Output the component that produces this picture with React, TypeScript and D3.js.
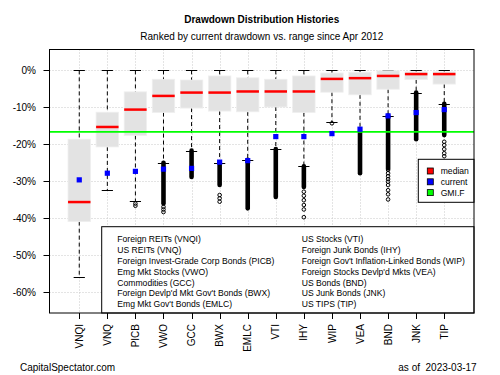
import React from "react";
import * as d3 from "d3";

const tickers = ["VNQI","VNQ","PICB","VWO","GCC","BWX","EMLC","VTI","IHY","WIP","VEA","BND","JNK","TIP"];
const upperWhisker = [0,0,0,0,0,0,0,0,0,0,0,0,0,0];
const q3 = [-18.6,-11.3,-5.8,-2.4,-2.6,-1.5,-2.0,-2.4,-1.5,-0.7,-0.5,-0.1,-0.4,-0.4];
const medians = [-35.6,-15.3,-10.6,-6.9,-6.0,-6.0,-5.7,-5.7,-5.7,-2.3,-2.1,-1.5,-1.0,-1.0];
const q1 = [-40.9,-20.7,-17.6,-11.4,-10.2,-11.0,-11.2,-9.9,-11.4,-5.9,-6.6,-5.1,-2.5,-3.7];
const lowerWhisker = [-56.0,-32.4,-35.3,-25.0,-21.7,-25.0,-24.2,-21.3,-25.9,-13.9,-16.5,-12.2,-6.0,-9.0];
const current = [-29.6,-27.8,-27.3,-26.7,-26.5,-24.8,-24.4,-17.9,-17.9,-17.1,-15.9,-12.3,-11.4,-10.6];
// dense run of overlapping outliers: from lower whisker down to this value
const denseOutlierEnd: (number | null)[] = [null,null,null,-36.0,-28.8,-31.0,-37.3,-34.2,-31.5,null,-27.8,-26.5,-18.6,-17.5];
const sparseOutliers: number[][] = [
  [], [], [-36.0,-36.6], [-36.9,-37.6,-38.3], [], [-33.7,-34.6,-35.5], [], [],
  [-32.8,-33.9,-35.1,-36.4,-37.6,-39.7], [-14.3], [],
  [-26.9,-27.8,-28.6,-29.4,-30.1,-31.0,-32.4,-33.5,-34.9], [], [-19.3,-20.2,-21.3,-22.4,-23.2]
];
const gmif = -16.6;
const yTicks = [0,-10,-20,-30,-40,-50,-60];
const legendCol1 = ["Foreign REITs (VNQI)","US REITs (VNQ)","Foreign Invest-Grade Corp Bonds (PICB)","Emg Mkt Stocks (VWO)","Commodities (GCC)","Foreign Devlp'd Mkt Gov't Bonds (BWX)","Emg Mkt Gov't Bonds (EMLC)"];
const legendCol2 = ["US Stocks (VTI)","Foreign Junk Bonds (IHY)","Foreign Gov't Inflation-Linked Bonds (WIP)","Foreign Stocks Devlp'd Mkts (VEA)","US Bonds (BND)","US Junk Bonds (JNK)","US TIPS (TIP)"];
const keyLabels = ["median","current","GMI.F"];
const keyColors = ["#ff0000","#0000ff","#00ff00"];

const FONT = "'Liberation Sans', Arial, Helvetica, sans-serif";

export default function App() {
  const L = 49.5, R = 474, T = 49.5, B = 313;
  const x = d3.scaleLinear().domain([-0.06, 15.06]).range([L, R]);
  const y = d3.scaleLinear().domain([5.65, -65.6]).range([T, B]);
  const bw = x(1.4) - x(1); // half box width
  const cw = x(1.2) - x(1); // half cap width

  return (
    <svg width={500} height={375} style={{ position: "absolute", left: 0, top: 0, background: "#fff" }} fontFamily={FONT}>
      <rect x={0} y={0} width={500} height={375} fill="#fff" />
      {/* title */}
      <text x={(L + R) / 2} y={23.3} textAnchor="middle" fontSize={10} fontWeight="bold" fill="#000">Drawdown Distribution Histories</text>
      <text x={(L + R) / 2} y={40} textAnchor="middle" fontSize={10} fill="#000">Ranked by current drawdown vs. range since Apr 2012</text>

      {/* grid */}
      {tickers.map((t, i) => (
        <line key={"gv" + t} x1={Math.round(x(i + 1)) + 0.5} x2={Math.round(x(i + 1)) + 0.5} y1={T} y2={B} stroke="#c8c8c8" strokeWidth={1} strokeDasharray="1 2" />
      ))}
      {yTicks.map((v) => (
        <line key={"gh" + v} x1={L} x2={R} y1={Math.round(y(v)) + 0.5} y2={Math.round(y(v)) + 0.5} stroke="#c8c8c8" strokeWidth={1} strokeDasharray="1 2" />
      ))}

      {/* boxplots */}
      {tickers.map((t, i) => {
        const cx = x(i + 1);
        const de = denseOutlierEnd[i];
        return (
          <g key={"b" + t}>
            <line x1={cx} x2={cx} y1={y(upperWhisker[i])} y2={y(q3[i])} stroke="#000" strokeDasharray="4 3" strokeWidth={1} />
            <line x1={cx} x2={cx} y1={y(q1[i])} y2={y(lowerWhisker[i])} stroke="#000" strokeDasharray="4 3" strokeWidth={1} />
            <line x1={cx - cw} x2={cx + cw} y1={Math.round(y(upperWhisker[i])) + 0.5} y2={Math.round(y(upperWhisker[i])) + 0.5} stroke="#000" strokeWidth={1} />
            <line x1={cx - cw} x2={cx + cw} y1={Math.round(y(lowerWhisker[i])) + 0.5} y2={Math.round(y(lowerWhisker[i])) + 0.5} stroke="#000" strokeWidth={1} />
            <rect x={cx - bw} width={2 * bw} y={y(q3[i])} height={y(q1[i]) - y(q3[i])} fill="#e3e3e3" stroke="#efefef" strokeWidth={0.8} />
            <line x1={cx - bw} x2={cx + bw} y1={y(medians[i])} y2={y(medians[i])} stroke="#ff0000" strokeWidth={2.5} />
            {de !== null && (
              <line x1={cx} x2={cx} y1={y(lowerWhisker[i])} y2={y(de)} stroke="#000" strokeWidth={4.6} strokeLinecap="round" />
            )}
            {sparseOutliers[i].map((v, k) => (
              <circle key={k} cx={cx} cy={y(v)} r={1.8} fill="none" stroke="#000" strokeWidth={1} />
            ))}
          </g>
        );
      })}

      {/* GMI.F line */}
      <line x1={L} x2={R} y1={y(gmif)} y2={y(gmif)} stroke="#00ff00" strokeWidth={1.8} />

      {/* current */}
      {tickers.map((t, i) => (
        <rect key={"c" + t} x={x(i + 1) - 2.6} y={y(current[i]) - 2.6} width={5.2} height={5.2} fill="#0000ff" />
      ))}

      {/* bottom legend */}
      <rect x={101.7} y={226.7} width={R - 101.7} height={B - 226.7} fill="#fff" stroke="#000" strokeWidth={1} />
      {legendCol1.map((s, k) => (
        <text key={"l1" + k} x={117.3} y={242.3 + k * 10.83} fontSize={8.6} fill="#000">{s}</text>
      ))}
      {legendCol2.map((s, k) => (
        <text key={"l2" + k} x={301.7} y={242.3 + k * 10.83} fontSize={8.6} fill="#000">{s}</text>
      ))}

      {/* key legend */}
      <rect x={418.3} y={159.3} width={R - 418.3} height={202.3 - 159.3} fill="#fff" stroke="#000" strokeWidth={1} />
      {keyLabels.map((s, k) => (
        <g key={"k" + s}>
          <rect x={427.3} y={168 + k * 10.8} width={6} height={6} fill={keyColors[k]} stroke="#000" strokeWidth={0.8} />
          <text x={440.7} y={174.1 + k * 10.8} fontSize={8.6} fill="#000">{s}</text>
        </g>
      ))}

      {/* plot frame */}
      <rect x={L} y={T} width={R - L} height={B - T} fill="none" stroke="#000" strokeWidth={1} />

      {/* y axis */}
      {yTicks.map((v) => (
        <g key={"yt" + v}>
          <line x1={L - 6} x2={L} y1={Math.round(y(v)) + 0.5} y2={Math.round(y(v)) + 0.5} stroke="#000" strokeWidth={1} />
          <text x={36} y={y(v)} dy="0.35em" textAnchor="end" fontSize={10} fill="#000">{v + "%"}</text>
        </g>
      ))}

      {/* x axis */}
      {tickers.map((t, i) => (
        <g key={"xt" + t}>
          <line x1={Math.round(x(i + 1)) + 0.5} x2={Math.round(x(i + 1)) + 0.5} y1={B} y2={B + 6} stroke="#000" strokeWidth={1} />
          <text transform={`translate(${x(i + 1)},${324}) rotate(-90)`} dy="0.36em" textAnchor="end" fontSize={10} fill="#000">{t}</text>
        </g>
      ))}

      {/* footer */}
      <text x={20} y={370.5} fontSize={10} fill="#000">CapitalSpectator.com</text>
      <text x={476.7} y={370.5} textAnchor="end" fontSize={10} fill="#000" style={{ whiteSpace: "pre" }}>{"as of  2023-03-17"}</text>
    </svg>
  );
}
